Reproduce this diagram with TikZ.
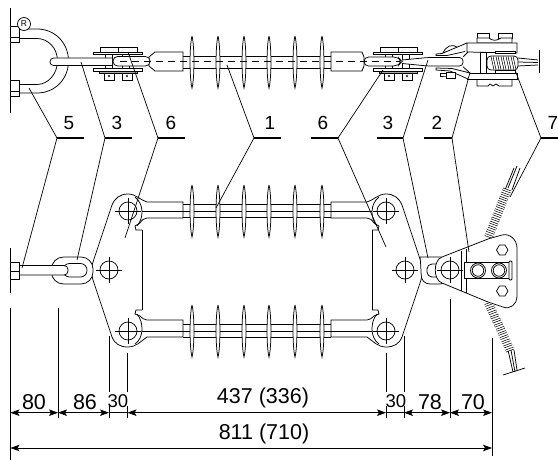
\documentclass[tikz,border=0pt]{standalone}
\usepackage{fontspec}
\setmainfont{Liberation Sans}
\usetikzlibrary{arrows.meta, calc}

\begin{document}
\begin{tikzpicture}[
    x=1pt, y=-1pt,
    part/.style={draw, line width=0.75pt, fill=white},
    wire/.style={draw, line width=0.75pt},
    leader/.style={draw, line width=0.7pt},
    tick/.style={draw, line width=1.6pt},
    bead/.style={double, double distance=1.3pt, line width=0.65pt},
    num/.style={font=\fontsize{19}{19}\selectfont, inner sep=0pt},
    dimtext/.style={font=\fontsize{21.5}{21.5}\selectfont, inner sep=0pt},
    dimtextsmall/.style={font=\fontsize{18.5}{18.5}\selectfont, inner sep=0pt},
    ext/.style={draw, line width=0.7pt},
    dimline/.style={draw, line width=0.7pt, {Stealth[length=9pt,width=6.5pt,inset=2pt]}-{Stealth[length=9pt,width=6.5pt,inset=2pt]}},
    hole/.style={draw, line width=0.75pt, circle, minimum size=18pt, inner sep=0pt}
]
\useasboundingbox (0,0) rectangle (558,460);

% Top string: wall and U bolt
\draw[wire] (10.5,8) -- (10.5,113);
\draw[part] (19,29) -- (37,29) .. controls (55,29) and (68.5,43) .. (68.5,61) .. controls (68.5,79) and (55,93) .. (37,93) -- (19,93) -- (19,84.5) -- (37,84.5) .. controls (48,84.5) and (57.5,74) .. (57.5,61) .. controls (57.5,48) and (48,38.5) .. (37,38.5) -- (19,38.5) -- cycle;
\draw[part] (10.5,26) rectangle (19,42);
\draw[wire] (10.5,37) -- (19,37);
\draw[part] (10.5,80) rectangle (19,96);
\draw[wire] (10.5,91) -- (19,91);
\node[draw, circle, line width=0.7pt, minimum size=13pt, inner sep=0pt, font=\fontsize{8.5}{8.5}\selectfont, fill=white] (regmark) at (24,24) {R};

% Top string: insulator rod
\draw[wire] (183,56) -- (331,56);
\draw[wire] (183,68) -- (331,68);
\foreach \px in {192,218,244,269,295,322} {
    \draw[part] (\px,36) .. controls (\px-2.6,46) and (\px-2.6,78) .. (\px,88) .. controls (\px+2.6,78) and (\px+2.6,46) .. (\px,36);
}
\draw[part] (183,52) -- (155,52) -- (149,57) -- (149,66) -- (155,71) -- (183,71) -- cycle;
\draw[part] (331,52) -- (362,52) -- (364,57) -- (364,66) -- (362,71) -- (331,71) -- cycle;

% Top string: clevis plates
\foreach \shift in {0,280} {
\begin{scope}[xshift=\shift pt]
    \draw[part] (105,54) rectangle (112,69);
    \draw[part] (122,54) rectangle (129,69);
    \draw[part] (100,47) rectangle (137,52);
    \draw[wire] (118,47) -- (118,52);
    \draw[part] (93,52) rectangle (142,54.5);
    \draw[part] (93,68.5) rectangle (142,71);
    \draw[part, fill=gray!70] (99,71) rectangle (137,73);
    \draw[part] (104,73) rectangle (114,80);
    \draw[part] (122,73) rectangle (132,80);
    \fill (109,76) circle (1.2pt);
    \fill (127,76) circle (1.2pt);
\end{scope}
}

% Top string: links
\draw[part, rounded corners=3.5pt] (112,58) -- (50,58) -- (50,65.5) -- (112,65.5);
\draw[part, rounded corners=4.5pt] (113,56.5) rectangle (150,66);
\draw[part, rounded corners=3.5pt] (402,60) -- (428,57.5) -- (463,57.5) -- (463,66) -- (428,66) -- (402,63.5);
\draw[part, rounded corners=4.5pt] (364,57) -- (398,57) -- (402,61.5) -- (398,66) -- (364,66) -- cycle;
\draw[wire, dashed, dash pattern=on 7pt off 5pt] (120,61.5) -- (400,61.5);

% Top string: dead end clamp
\draw[wire] (518,58) -- (538,60);
\draw[wire] (518,66) -- (538,65);
\draw[wire] (518,62) -- (538,62.5);
\draw[wire] (539.5,50) -- (539.5,73);
\draw[part] (477,33) rectangle (489,38);
\draw[part] (498,33) rectangle (512,38);
\draw[part] (477,38) -- (477,43) -- (512,43) -- (512,38) -- (501,38) .. controls (497,41) and (492,41) .. (489,38) -- cycle;
\draw[part] (477,79) -- (477,86) -- (488,86) -- (490,84) -- (493,86) -- (496,84) -- (499,86) -- (512,86) -- (512,79) -- cycle;
\draw[part] (443,53) .. controls (446,46) and (452,43) .. (458,48) -- cycle;
\draw[part] (467,43) -- (442,53.5) -- (436,54) -- (436,55.5) -- (447,55.5) -- (465,51.5);
\draw[part] (467,43) -- (517,43) -- (517,53) -- (467,52) -- cycle;
\draw[part] (467,79) -- (517,79) -- (517,73) -- (467,73) -- cycle;
\draw[part] (436,68) -- (436,70) -- (450,71) -- (468,79) -- (470,73) -- (452,68.5) -- cycle;
\draw[part] (446,72) rectangle (455,78);
\draw[wire] (440,73.5) -- (446,73.5) (440,76) -- (446,76) -- (440,76) -- (440,73.5);
\draw[wire] (463.3,56.7) -- (468,52);
\draw[wire] (463,66.7) -- (470,73);
\draw[part] (480,52) rectangle (486,73);
\draw[part] (495,51) rectangle (515,53);
\draw[part] (495,70) rectangle (515,73);
\draw[part, rounded corners=4pt] (487,56) rectangle (518,70);
\foreach \px in {492,497,502,507,512} {
    \draw[bead] (\px,56.5) -- (\px+3,69.5);
}

% Lower string: insulators
\foreach \py in {211,331} {
    \draw[wire] (183,\py-7) -- (331,\py-7);
    \draw[wire] (183,\py+6) -- (331,\py+6);
    \draw[wire] (142,\py) -- (372,\py);
    \foreach \px in {192,218,244,269,295,322} {
        \draw[part] (\px,\py-26) .. controls (\px-2.6,\py-16) and (\px-2.6,\py+16) .. (\px,\py+26) .. controls (\px+2.6,\py+16) and (\px+2.6,\py-16) .. (\px,\py-26);
    }
}

% Lower string: yoke plates, the right one is mirrored
\foreach \mirror/\flip in {0/1,514/-1} {
\begin{scope}[xshift=\mirror pt, xscale=\flip]
    \draw[wire] (142,230) -- (142,310);
    \draw[wire] (142,230) -- (136,230) -- (135,226) -- (140,223) .. controls (142,220) and (144,218) .. (147,218) -- (183,218) -- (183,202) -- (147,202) .. controls (140,200) and (136,194) .. (128,194) .. controls (120,194) and (115,198) .. (112,205) -- (93,262) .. controls (91,268) and (91,274) .. (93,280) -- (112,337) .. controls (115,344) and (120,347) .. (128,347) .. controls (136,347) and (140,342) .. (147,337) -- (183,337) -- (183,320) -- (147,320) .. controls (144,320) and (142,318) .. (140,316) -- (135,314) -- (136,310) -- (142,310);
    \draw[wire] (135,197) .. controls (144,204) and (144,218) .. (137,226);
    \draw[wire] (135,344) .. controls (144,338) and (144,322) .. (137,314);
    \foreach \hx/\hy/\hname in {128/211/top,128/331/low,109/270/mid} {
        \node[hole] (eye\hname) at (\hx,\hy) {};
        \draw[wire] (\hx-13,\hy) -- (\hx+13,\hy);
        \draw[wire] (\hx,\hy-13) -- (\hx,\hy+13);
    }
\end{scope}
}

% Lower string: left bolt and chain link
\draw[wire] (10.5,248) -- (10.5,293);
\draw[part, rounded corners=12pt] (51.5,257) rectangle (93,284);
\draw[part, rounded corners=6.5pt] (63,263.5) rectangle (87,277);
\draw[part, rounded corners=4pt] (19,265.5) -- (68,265.5) -- (68,275) -- (19,275);
\draw[part] (10.5,262) rectangle (19,279);
\draw[wire] (10.5,271) -- (19,271);

% Lower string: cable
\draw[wire] (505,190) -- (514,168) (512,190) -- (520,168) (508,188) -- (517,166);
\draw[wire] (508,350) -- (513,372) (514,350) -- (517,370) (511,350) -- (515,372);
\draw[wire] (503,375) -- (525,368);
\foreach \t in {0,0.09,...,1.01} {
    \draw[bead] ($(489,236)!\t!(507,190)+(-4,-1.5)$) -- ++(8,3);
    \draw[bead] ($(489,304)!\t!(510,350)+(-4,1.5)$) -- ++(8,-3);
}

% Lower string: right link and clamp
\draw[part, rounded corners=10pt] (420,257) -- (450,257) -- (450,284) -- (420,284) .. controls (421,276) and (421,265) .. (420,257);
\draw[part, rounded corners=5pt] (427,264) rectangle (445,277);
\draw[part] (442,257) -- (488,239) -- (502,235) .. controls (510,233) and (517,240) .. (517,248) -- (517,297) .. controls (517,304) and (510,310) .. (503,307) -- (488,302) -- (442,283) .. controls (433,280) and (433,260) .. (442,257) -- cycle;
\draw[wire] (461,251) -- (461,291);
\draw[wire] (466,249) -- (466,293);
\draw[part] (464.5,262) rectangle (509,278);
\draw[part, rounded corners=1pt] (509,261) rectangle (512,280);
\foreach \bx/\bname in {478/a,499/b} {
    \node[draw, circle, line width=0.75pt, minimum size=15pt, inner sep=0pt, fill=white] (bolt\bname) at (\bx,270.5) {};
    \node[draw, circle, line width=0.75pt, minimum size=11.5pt, inner sep=0pt] (nut\bname) at (\bx,270.5) {};
}
\foreach \hy in {250,291} {
    \draw[wire] (496.5,\hy) -- (499.5,\hy-5) -- (505,\hy-5) -- (508,\hy) -- (505,\hy+5) -- (499.5,\hy+5) -- cycle;
}
\node[hole] (eyeclamp) at (450,270) {};
\draw[wire] (450,257) -- (450,283);
\draw[wire] (437,270) -- (463,270);

% Numbered labels
\node[num] (lab5) at (69,123) {5};
\node[num] (lab3) at (117,123) {3};
\node[num] (lab6) at (171,123) {6};
\node[num] (lab1) at (270,123) {1};
\node[num] (lab6r) at (323,123) {6};
\node[num] (lab3r) at (388,123) {3};
\node[num] (lab2) at (437,123) {2};
\node[num] (lab7) at (553,123) {7};

% Leaders
\foreach \name/\vx/\endx in {5/57/84,3/105/132,6/158/185,1/254/281,6r/338/311,3r/403/377,2/452/424,7/541/558} {
    \coordinate (v\name) at (\vx,138);
    \coordinate (e\name) at (\endx,138);
    \draw[tick] (v\name) -- (e\name);
}
\foreach \name/\ux/\uy/\dx/\dy in {5/29/88/22/268,3/81/62/77/260,6/128/52/125/238,1/227/65/216/208,6r/383/70/386/247,3r/428/60/428/258,2/468/80/469/252,7/515/70/510/197} {
    \coordinate (u\name) at (\ux,\uy);
    \coordinate (d\name) at (\dx,\dy);
    \draw[leader] (u\name) -- (v\name) -- (d\name);
}

% Dimensions
\foreach \name/\px/\py/\endy in {a/10.5/308/460,b/58/308/418,c/109/336/392,d/127.5/353/392,e/386/353/392,f/404/336/392,g/450/299/418,h/492/338/456} {
    \coordinate (t\name) at (\px,\py);
    \coordinate (b\name) at (\px,\endy);
    \draw[ext] (t\name) -- (b\name);
    \coordinate (r\name) at (\px,412.7);
    \coordinate (s\name) at (\px,418);
    \coordinate (k\name) at (\px,406);
}
\foreach \name in {c,d,e,f} {
    \draw[ext] (k\name) -- (s\name);
}
\coordinate (wa) at (10.5,448);
\coordinate (wh) at (492,448);
\draw[dimline] (ra) -- (rb);
\draw[dimline] (rb) -- (rc);
\draw[dimline] (rd) -- (re);
\draw[dimline] (rf) -- (rg);
\draw[dimline] (rg) -- (rh);
\draw[dimline] (wa) -- (wh);
\draw[ext] (rc) -- (rd);
\draw[ext] (re) -- (rf);
\node[dimtext] (dim80) at (34,402.5) {80};
\node[dimtext] (dim86) at (85,402.5) {86};
\node[dimtextsmall] (dim30) at (118,401.5) {30};
\node[dimtext] (dim437) at (263,398) {437 (336)};
\node[dimtextsmall] (dim30r) at (396,401.5) {30};
\node[dimtext] (dim78) at (430,402.5) {78};
\node[dimtext] (dim70) at (473,402.5) {70};
\node[dimtext] (dim811) at (264,434) {811 (710)};

\end{tikzpicture}
\end{document}
